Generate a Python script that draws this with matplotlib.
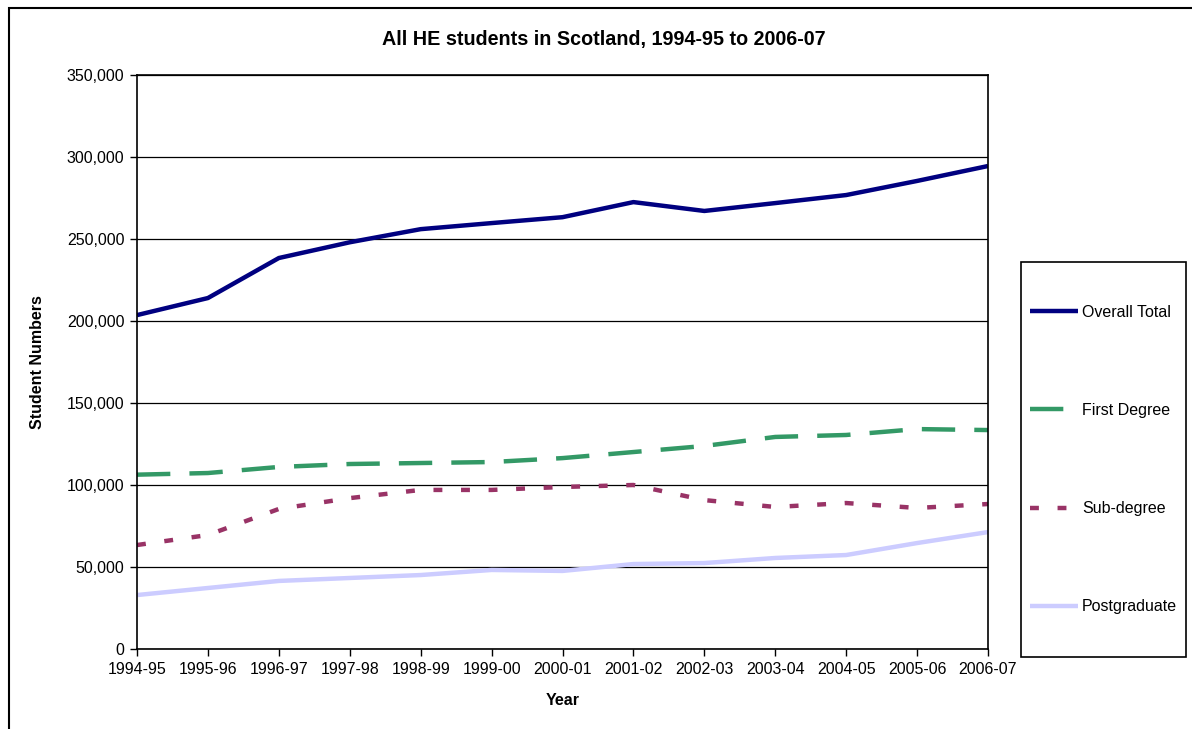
import matplotlib
matplotlib.use("Agg")
from matplotlib import pyplot as plt
from matplotlib.patches import Rectangle
from matplotlib.ticker import FuncFormatter

plt.rcParams['font.family'] = ['Liberation Sans', 'DejaVu Sans']

years = ['1994-95', '1995-96', '1996-97', '1997-98', '1998-99', '1999-00', '2000-01',
         '2001-02', '2002-03', '2003-04', '2004-05', '2005-06', '2006-07']
overall_total = [203600, 214000, 238400, 248000, 256000, 259700, 263300,
                 272500, 267100, 271900, 276800, 285400, 294500]
first_degree = [106300, 107300, 111000, 112800, 113400, 114000, 116400,
                120100, 123800, 129300, 130500, 134100, 133500]
sub_degree = [63400, 69500, 85400, 92000, 97000, 97000, 98800,
              100000, 90800, 86600, 89000, 86000, 88400]
postgraduate = [32900, 37200, 41500, 43300, 45100, 48200, 47600,
                51800, 52400, 55500, 57300, 64600, 71300]

fig = plt.figure(figsize=(11.92, 7.29), dpi=100)
ax = fig.add_axes([137/1192, 1 - 649/729, 851/1192, 574/729])

x = range(len(years))
ax.plot(x, overall_total, color='#000080', lw=3.2, solid_capstyle='butt', label='Overall Total')
ax.plot(x, first_degree, color='#339966', lw=3.2, dashes=(7.5, 4.3), label='First Degree')
ax.plot(x, sub_degree, color='#993366', lw=3.2, dashes=(2.0, 4.2), label='Sub-degree')
ax.plot(x, postgraduate, color='#CCCCFF', lw=3.2, solid_capstyle='butt', label='Postgraduate')

ax.set_xlim(0, len(years) - 1)
ax.set_ylim(0, 350000)
ax.set_yticks(range(0, 350001, 50000))
ax.yaxis.set_major_formatter(FuncFormatter(lambda v, p: f'{int(v):,}'))
ax.set_xticks(list(x))
ax.set_xticklabels(years)
ax.tick_params(labelsize=11.5, length=5, width=1, direction='out', pad=4)
ax.grid(axis='y', color='black', lw=0.9)
ax.set_axisbelow(True)
for s in ax.spines.values():
    s.set_linewidth(1.2)

fig.text(604/1192, 1 - 40/729, 'All HE students in Scotland, 1994-95 to 2006-07',
         fontsize=14.2, fontweight='bold', ha='center', va='center')
ax.set_xlabel('Year', fontsize=11.5, fontweight='bold', labelpad=12)
ax.set_ylabel('Student Numbers', fontsize=11.5, fontweight='bold', labelpad=16)

# legend: entries without frame, box drawn separately
leg = fig.legend(loc='upper left', bbox_to_anchor=(1030/1192, 1 - 305/729),
                 bbox_transform=fig.transFigure, fontsize=11.5, frameon=False,
                 labelspacing=5.2, borderpad=0, handlelength=3.0,
                 handletextpad=0.25, borderaxespad=0)
fig.patches.append(Rectangle((1021/1192, 1 - 657/729), 165/1192, 395/729,
                             transform=fig.transFigure, fill=False,
                             edgecolor='black', lw=1.2))

fig.patches.append(Rectangle((9/1192, -0.1), 1.2, 1 - 8/729 + 0.1,
                             transform=fig.transFigure, fill=False,
                             edgecolor='black', lw=1.5))

fig.savefig('out.png', dpi=100)
